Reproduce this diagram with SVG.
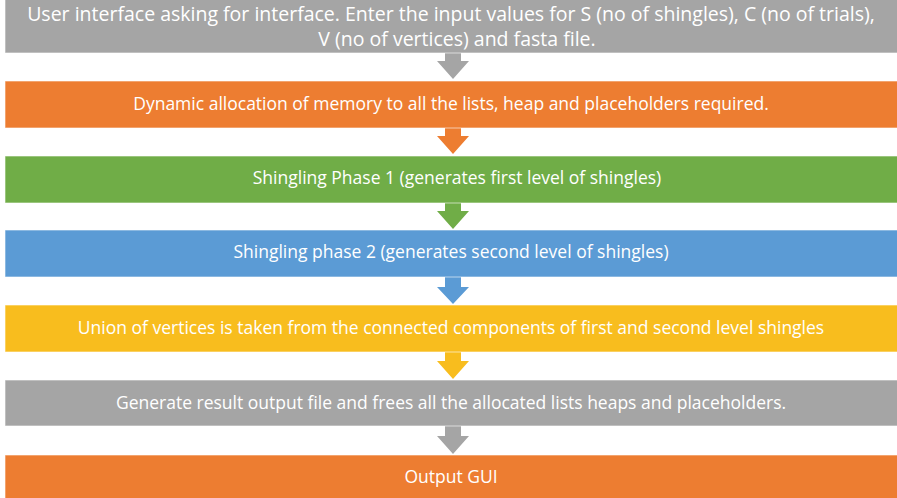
<svg xmlns="http://www.w3.org/2000/svg" width="897" height="498" viewBox="0 0 897 498">
  <style>
    .box { stroke: #ffffff; stroke-opacity: 0.6; stroke-width: 1; }
    .lbl { font-family: "Open Sans", "Liberation Sans", sans-serif; font-size: 17.5px; fill: #ffffff; text-anchor: middle; }
    .lbl-lg { font-size: 19.5px; }
    .gray { fill: #A5A5A5; }
    .orange { fill: #ED7D31; }
    .green { fill: #70AD47; }
    .blue { fill: #5B9BD5; }
    .yellow { fill: #F8BD1E; }
  </style>
  <rect width="897" height="498" fill="#ffffff"/>

  <!-- connectors: block arrows between steps -->
  <g id="connectors">
    <path class="gray" d="M445 53 H461 V61 H469 L453 79 L437 61 H445 Z"/>
    <path class="orange" d="M445 128 H461 V136 H469 L453 154 L437 136 H445 Z"/>
    <path class="green" d="M445 203 H461 V211 H469 L453 229 L437 211 H445 Z"/>
    <path class="blue" d="M445 277 H461 V287 H469 L453 304 L437 287 H445 Z"/>
    <path class="yellow" d="M445 352 H461 V361 H469 L453 379 L437 361 H445 Z"/>
    <path class="gray" d="M445 426 H461 V436 H469 L453 454 L437 436 H445 Z"/>
  </g>

  <g id="step1">
    <rect class="box gray" x="5" y="-1" width="893" height="54"/>
    <text class="lbl lbl-lg" x="451" y="21">User interface asking for interface. Enter the input values for S (no of shingles), C (no of trials),</text>
    <text class="lbl lbl-lg" x="457" y="45.5">V (no of vertices) and fasta file.</text>
  </g>
  <g id="step2">
    <rect class="box orange" x="5" y="81" width="893" height="47"/>
    <text class="lbl" x="451" y="110">Dynamic allocation of memory to all the lists, heap and placeholders required.</text>
  </g>
  <g id="step3">
    <rect class="box green" x="5" y="156" width="893" height="47"/>
    <text class="lbl" x="457" y="184">Shingling Phase 1 (generates first level of shingles)</text>
  </g>
  <g id="step4">
    <rect class="box blue" x="5" y="230" width="893" height="47"/>
    <text class="lbl" x="451" y="258">Shingling phase 2 (generates second level of shingles)</text>
  </g>
  <g id="step5">
    <rect class="box yellow" x="5" y="305" width="893" height="47"/>
    <text class="lbl" x="451" y="334">Union of vertices is taken from the connected components of first and second level shingles</text>
  </g>
  <g id="step6">
    <rect class="box gray" x="5" y="380" width="893" height="46"/>
    <text class="lbl" x="451" y="409">Generate result output file and frees all the allocated lists heaps and placeholders.</text>
  </g>
  <g id="step7">
    <rect class="box orange" x="5" y="455" width="893" height="44"/>
    <text class="lbl" x="451" y="483">Output GUI</text>
  </g>
</svg>
